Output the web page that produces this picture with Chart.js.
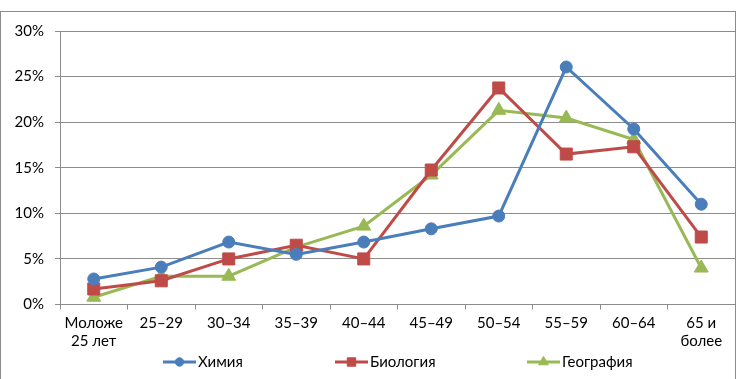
<!DOCTYPE html>
<html>
<head>
<meta charset="utf-8">
<script src="https://cdn.jsdelivr.net/npm/chart.js@4.4.0/dist/chart.umd.min.js"></script>
<style>
  html, body { margin: 0; padding: 0; background: #fff; }
  #wrap { position: relative; width: 741px; height: 379px; overflow: hidden; }
  #frame { position: absolute; left: 0; top: 11px; width: 736px; height: 380px; border: 1px solid #8c8c8c; box-sizing: border-box; }
  canvas { position: absolute; left: 0; top: 0; }
</style>
</head>
<body>
<div id="wrap">
  <div id="frame"></div>
  <canvas id="chart" width="741" height="379"></canvas>
</div>
<script>
const categories = [["Моложе", "25 лет"], "25–29", "30–34", "35–39", "40–44", "45–49", "50–54", "55–59", "60–64", ["65 и", "более"]];
const chemistry = [2.8, 4.1, 6.85, 5.5, 6.85, 8.3, 9.7, 26.05, 19.25, 11.0];
const biology = [1.7, 2.6, 5.0, 6.5, 5.0, 14.75, 23.75, 16.5, 17.3, 7.4];
const geography = [0.8, 3.1, 3.1, 6.3, 8.6, 14.2, 21.3, 20.45, 18.1, 4.0];
const yTicks = [0, 5, 10, 15, 20, 25, 30];

const FONT = "Lato, 'Open Sans', sans-serif";

// legend drawn like Excel: line with marker, then the name
const legendPlugin = {
  id: 'excelLegend',
  afterDraw(chart) {
    const ctx = chart.ctx;
    const xs = [163, 335, 527];
    const y = 362;
    chart.data.datasets.forEach((ds, i) => {
      const x0 = xs[i];
      ctx.save();
      ctx.strokeStyle = ds.borderColor;
      ctx.fillStyle = ds.backgroundColor;
      ctx.lineWidth = 3;
      ctx.beginPath();
      ctx.moveTo(x0, y);
      ctx.lineTo(x0 + 33, y);
      ctx.stroke();
      ctx.lineWidth = 1;
      Chart.helpers.drawPoint(ctx, {
        pointStyle: ds.pointStyle,
        radius: ds.pointRadius * 0.7,
        rotation: 0,
        borderWidth: 1
      }, x0 + 16.5, y);
      ctx.fillStyle = '#000';
      ctx.font = '15px ' + FONT;
      ctx.textBaseline = 'middle';
      ctx.fillText(ds.label, x0 + 35, y);
      ctx.restore();
    });
  }
};

new Chart(document.getElementById('chart'), {
  type: 'line',
  data: {
    labels: categories,
    datasets: [
      { label: 'Химия', data: chemistry, borderColor: '#4a7ebb', backgroundColor: '#4a7ebb', pointStyle: 'circle', pointRadius: 6 },
      { label: 'Биология', data: biology, borderColor: '#be4b48', backgroundColor: '#be4b48', pointStyle: 'rect', pointRadius: 8.5 },
      { label: 'География', data: geography, borderColor: '#98b954', backgroundColor: '#98b954', pointStyle: 'triangle', pointRadius: 8 }
    ]
  },
  options: {
    responsive: false,
    animation: false,
    devicePixelRatio: 1,
    elements: {
      line: { borderWidth: 3, tension: 0 },
      point: { borderWidth: 1, hoverRadius: 6 }
    },
    layout: { autoPadding: false, padding: { top: 31, right: 6, left: 0, bottom: 0 } },
    plugins: { legend: { display: false }, tooltip: { enabled: false } },
    scales: {
      x: {
        offset: true,
        grid: { display: true, drawOnChartArea: false, drawTicks: true, tickLength: 5, color: '#8c8c8c', offset: true },
        border: { color: '#8c8c8c' },
        ticks: { color: '#000', font: { family: FONT, size: 15 }, padding: 5, maxRotation: 0, autoSkip: false },
        afterFit(scale) {
          scale.height = 74.5;
          scale.paddingLeft = 0;
          scale.paddingRight = 0;
        }
      },
      y: {
        min: 0, max: 30,
        afterBuildTicks(scale) { scale.ticks = yTicks.map(v => ({ value: v })); },
        grid: { color: '#8c8c8c', tickLength: 5 },
        border: { color: '#8c8c8c' },
        ticks: { color: '#000', font: { family: FONT, size: 15 }, padding: 11, callback: v => v + '%' },
        afterFit(scale) { scale.width = 60; }
      }
    }
  },
  plugins: [legendPlugin]
});
</script>
</body>
</html>
